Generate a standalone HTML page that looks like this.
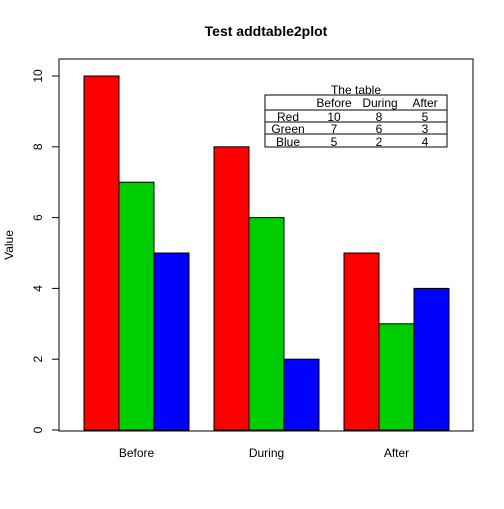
<!DOCTYPE html>
<html><head><meta charset="utf-8"><style>body{margin:0;background:#fff}text{font-family:"Liberation Sans",Arial,sans-serif}</style></head>
<body>
<svg id="c" width="504" height="504" xmlns="http://www.w3.org/2000/svg">
<rect width="504" height="504" fill="#fff"/>
<text x="266" y="36" text-anchor="middle" font-size="14" font-weight="bold">Test addtable2plot</text>
<text transform="translate(13,245) rotate(-90)" text-anchor="middle" font-size="12">Value</text>
<rect x="59" y="59" width="414" height="372" fill="none" stroke="#000"/>
<g id="bars"></g><g id="axis"></g>
<g font-size="12">
<text x="356" y="94" text-anchor="middle">The table</text>
<rect x="265" y="95" width="182" height="52" fill="#fff" stroke="#000"/>
<line x1="265" y1="110" x2="447" y2="110" stroke="#000"/>
<line x1="265" y1="122" x2="447" y2="122" stroke="#000"/>
<line x1="265" y1="134" x2="447" y2="134" stroke="#000"/>
<g id="tbl"></g>
</g>
</svg>
<script>
const categories=["Before","During","After"];
const seriesNames=["Red","Green","Blue"];
const redVals=[10,8,5];
const greenVals=[7,6,3];
const blueVals=[5,2,4];
const yTicks=[0,2,4,6,8,10];
const NS="http://www.w3.org/2000/svg";
const y=v=>430-v*35.4;
const series=[redVals,greenVals,blueVals];
const colors=["#ff0000","#00cd00","#0000ff"];
const bars=document.getElementById('bars'),axis=document.getElementById('axis'),tbl=document.getElementById('tbl');
function mk(t,a,p){const e=document.createElementNS(NS,t);for(const k in a)e.setAttribute(k,a[k]);p.appendChild(e);return e;}
categories.forEach((c,i)=>{
  const gx=84+i*130;
  series.forEach((s,j)=>{
    const r=mk('rect',{x:gx+j*35,y:y(s[i]),width:35,height:y(0)-y(s[i]),fill:colors[j],stroke:'#000'},bars);
    
    
  });
  const t=mk('text',{x:gx+52.5,y:457,'text-anchor':'middle','font-size':12},axis);t.textContent=c;
  
  
  const h=mk('text',{x:[334,380,425][i],y:107,'text-anchor':'middle','font-size':12},tbl);h.textContent=c;
  
  
});
mk('line',{x1:59,y1:y(0),x2:59,y2:y(10),stroke:'#000'},axis);
yTicks.forEach(v=>{
  mk('line',{x1:52,y1:y(v),x2:59,y2:y(v),stroke:'#000'},axis);
  const t=mk('text',{transform:`translate(42,${y(v)}) rotate(-90)`,'text-anchor':'middle','font-size':12},axis);t.textContent=v;
  
  
});
series.forEach((s,j)=>{
  const ry=[121,133,146][j];
  const n=mk('text',{x:288,y:ry,'text-anchor':'middle','font-size':12},tbl);n.textContent=seriesNames[j];
  
  
  s.forEach((v,i)=>{
    const t=mk('text',{x:[334,379,425][i],y:ry,'text-anchor':'middle','font-size':12},tbl);t.textContent=v;
    
    
  });
});
</script>
</body></html>
